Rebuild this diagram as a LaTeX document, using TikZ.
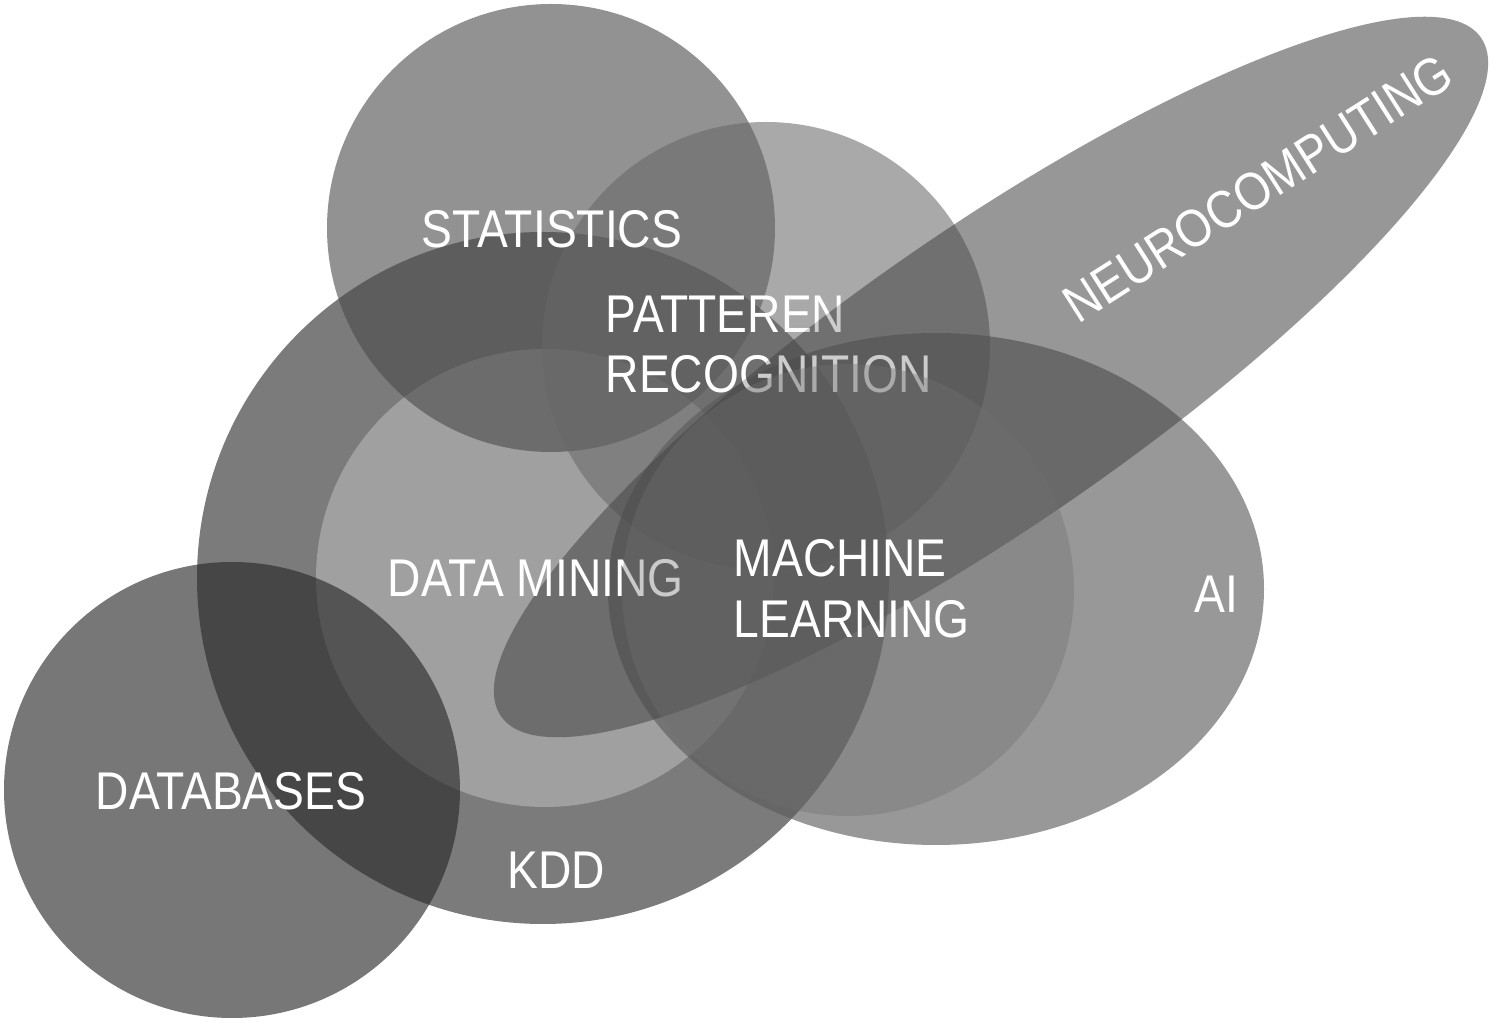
\documentclass[tikz,border=0pt]{standalone}
\usepackage{fontspec}
\setmainfont{Liberation Sans}[FakeStretch=0.87]
\definecolor{cKDD}{gray}{0.482}
\definecolor{cDM}{gray}{0.627}
\definecolor{cDB}{gray}{0.157}
\definecolor{cST}{gray}{0.29}
\definecolor{cPR}{gray}{0.404}
\definecolor{cNC}{gray}{0.427}
\definecolor{cAI}{gray}{0.353}
\definecolor{cML}{gray}{0.44}
\begin{document}
\begin{tikzpicture}[x=0.01cm,y=-0.01cm,
  lbl/.style={text=white,inner sep=0pt,font=\fontsize{15.1}{17}\selectfont},
  neuroshape/.style={rotate around={34.7:(991,377)}}]
\useasboundingbox (0,0) rectangle (1499,1025);
\fill[white] (0,0) rectangle (1499,1025);
% KDD and data mining
\fill[cKDD] (543,578) circle[radius=346];
\fill[cDM] (545,578) circle[radius=229];
% databases
\fill[cDB,fill opacity=0.63] (232,790) circle[radius=228];
% statistics
\fill[cST,fill opacity=0.6] (551,228) circle[radius=224];
% pattern recognition
\fill[cPR,fill opacity=0.56] (766,346) circle[radius=224];
% AI
\fill[cAI,fill opacity=0.62] (936,589) ellipse[x radius=328,y radius=256];
% neurocomputing (two layers, the pattern text between them)
\fill[cNC,fill opacity=0.45,neuroshape] (991,377) ellipse[x radius=596,y radius=147];
\node[lbl,anchor=base west] (pat) at (605,333) {PATTEREN};
\node[lbl,anchor=base west] (rec) at (605,393) {RECOGNITION};
\fill[black,fill opacity=0.2,neuroshape] (991,377) ellipse[x radius=596,y radius=147];
\node[lbl,anchor=base west] (dm) at (387,597) {DATA MINING};
% machine learning
\fill[cML,fill opacity=0.37] (848,590) circle[radius=226];
% labels on top
\node[lbl,anchor=base] (st) at (552,248) {STATISTICS};
\node[lbl,anchor=base west] (ml1) at (733,577) {MACHINE};
\node[lbl,anchor=base west] (ml2) at (733,638) {LEARNING};
\node[lbl,anchor=base west] (ai) at (1194,613) {AI};
\node[lbl,anchor=base west] (db) at (95,810) {DATABASES};
\node[lbl,anchor=base west] (kdd) at (507,889) {KDD};
\node[lbl,rotate=32.5] (nc) at (1258,188) {NEUROCOMPUTING};
\end{tikzpicture}
\end{document}
